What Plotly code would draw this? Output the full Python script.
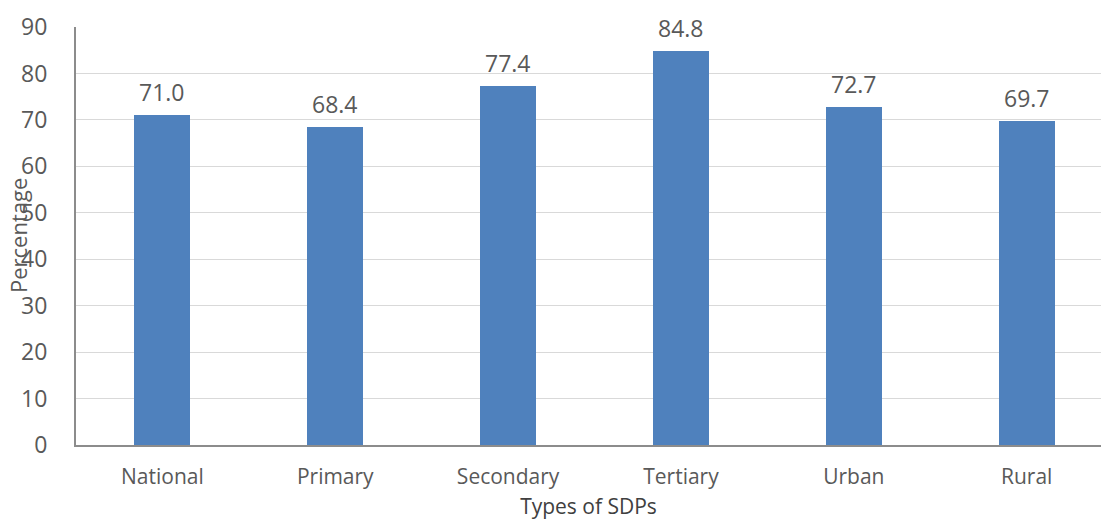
import plotly.graph_objects as go

# Share of service delivery points by type
categories = ["National", "Primary", "Secondary", "Tertiary", "Urban", "Rural"]
values = [71.0, 68.4, 77.4, 84.8, 72.7, 69.7]
y_ticks = [0, 10, 20, 30, 40, 50, 60, 70, 80, 90]

FONT = "Open Sans"
TEXT = "#595959"
BAR = "#4f81bd"

fig = go.Figure(
    go.Bar(
        x=list(range(len(categories))),
        y=values,
        width=0.324,
        marker=dict(color=BAR, line=dict(width=0)),
        hoverinfo="skip",
    )
)

# Value labels above each bar
for i, v in enumerate(values):
    fig.add_annotation(
        x=i, y=v, text=f"{v:.1f}", showarrow=False,
        yanchor="bottom", yshift=5,
        font=dict(family=FONT, size=23, color=TEXT),
    )

# Vertical axis title sits over the tick labels
fig.add_annotation(
    xref="paper", yref="paper", x=0, y=0.5, xshift=-58,
    text="Percentage", textangle=-90, showarrow=False,
    xanchor="center", yanchor="middle",
    font=dict(family=FONT, size=22, color=TEXT),
)

fig.update_layout(
    width=1101, height=524,
    margin=dict(l=76, r=0, t=27, b=79),
    paper_bgcolor="white", plot_bgcolor="white",
    showlegend=False,
    bargap=0,
    xaxis=dict(
        tickmode="array",
        tickvals=list(range(len(categories))),
        ticktext=categories,
        range=[-0.5, 5.43],
        showgrid=False,
        showline=True, linecolor="#8c8c8c", linewidth=2,
        ticks="", ticklabelstandoff=12,
        tickfont=dict(family=FONT, size=21, color=TEXT),
        title=dict(text="Types of SDPs", standoff=10,
                   font=dict(family=FONT, size=21, color="#404040")),
        fixedrange=True,
    ),
    yaxis=dict(
        range=[0, 90],
        tickmode="array", tickvals=y_ticks,
        showgrid=True, gridcolor="#d9d9d9", gridwidth=1,
        showline=True, linecolor="#8c8c8c", linewidth=2,
        zeroline=False,
        ticks="", ticklabelstandoff=22,
        tickfont=dict(family=FONT, size=23, color=TEXT),
        fixedrange=True,
    ),
)

fig.write_html("out.html")
